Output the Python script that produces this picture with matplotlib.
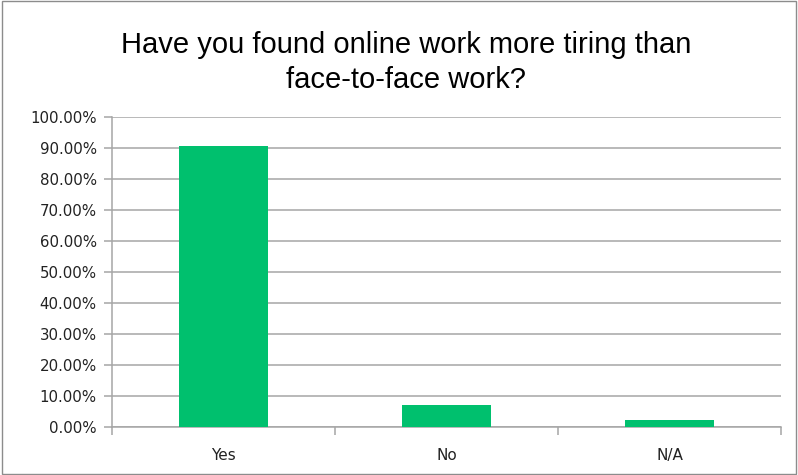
import matplotlib.pyplot as plt
import matplotlib.patches as mpatches
import numpy as np
from matplotlib.ticker import PercentFormatter

# survey answers
answers = ['Yes', 'No', 'N/A']
shares = [90.6, 7.2, 2.2]
yticks = np.arange(0, 101, 10)

fig = plt.figure(figsize=(7.98, 4.75), dpi=100)
ax = fig.add_axes([0.1404, 0.101, 0.8383, 0.6527])

x = np.arange(len(answers))
ax.bar(x, shares, width=0.4, color='#00c06e', zorder=3)

ax.set_xlim(-0.5, len(answers) - 0.5)
ax.set_ylim(0, 100)
ax.set_yticks(yticks)
ax.yaxis.set_major_formatter(PercentFormatter(decimals=2))
ax.grid(axis='y', color='#a6a6a6', linewidth=1.1, zorder=0)

# category labels centred, tick marks on the category boundaries
ax.set_xticks(x)
ax.set_xticklabels(answers, fontsize=11)
ax.set_xticks(np.arange(len(answers) + 1) - 0.5, minor=True)
ax.tick_params(axis='x', which='major', length=0, pad=15, labelcolor='#222222')
ax.tick_params(axis='x', which='minor', length=6, color='#a6a6a6', width=1.1)
ax.tick_params(axis='y', length=6, color='#a6a6a6', width=1.1, pad=5,
               labelsize=10.8, labelcolor='#222222')

for side in ['top', 'right']:
    ax.spines[side].set_visible(False)
for side in ['left', 'bottom']:
    ax.spines[side].set_color('#a6a6a6')
    ax.spines[side].set_linewidth(1.1)

fig.text(0.509, 0.934, 'Have you found online work more tiring than\nface-to-face work?',
         ha='center', va='top', fontsize=21, family='Liberation Sans',
         linespacing=1.28)

# chart area border
fig.patches.append(mpatches.Rectangle((0.003, 0.003), 0.994, 0.994,
                                      transform=fig.transFigure, fill=False,
                                      edgecolor='#8c8c8c', linewidth=1))

fig.savefig('out.png', dpi=100)
